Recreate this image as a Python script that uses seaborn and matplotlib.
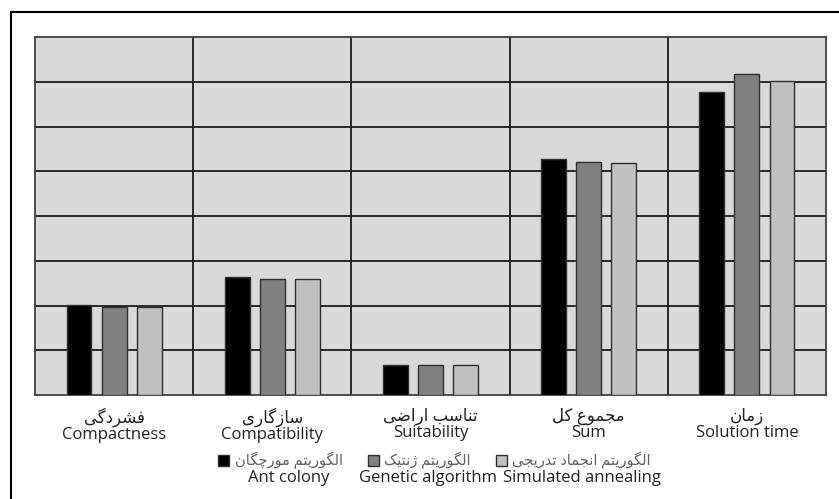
import pandas as pd
import numpy as np
import matplotlib.pyplot as plt
import matplotlib.patches as mpatches
import seaborn as sns

###############################################################
# data (grid units, 8 grid rows)

categories_fa = ['فشردگی', 'سازگاری', 'تناسب اراضی', 'مجموع کل', 'زمان']
categories_en = ['Compactness', 'Compatibility', 'Suitability', 'Sum', 'Solution time']

algos_fa = ['الگوریتم مورچگان', 'الگوریتم ژنتیک', 'الگوریتم انجماد تدریجی']
algos_en = ['Ant colony', 'Genetic algorithm', 'Simulated annealing']

ant_colony = [2.01, 2.64, 0.66, 5.28, 6.78]
genetic = [1.97, 2.59, 0.66, 5.21, 7.17]
annealing = [1.97, 2.59, 0.66, 5.19, 7.02]

colors = ['#000000', '#808080', '#c0c0c0']

###############################################################
# matplotlib has no arabic shaping, so join the letters by hand
# (isolated, final, initial, medial)
FORMS = {
    'ا': ('\uFE8D', '\uFE8E', None, None),
    'ب': ('\uFE8F', '\uFE90', '\uFE91', '\uFE92'),
    'ت': ('\uFE95', '\uFE96', '\uFE97', '\uFE98'),
    'ج': ('\uFE9D', '\uFE9E', '\uFE9F', '\uFEA0'),
    'چ': ('\uFB7A', '\uFB7B', '\uFB7C', '\uFB7D'),
    'د': ('\uFEA9', '\uFEAA', None, None),
    'ر': ('\uFEAD', '\uFEAE', None, None),
    'ز': ('\uFEAF', '\uFEB0', None, None),
    'ژ': ('\uFB8A', '\uFB8B', None, None),
    'س': ('\uFEB1', '\uFEB2', '\uFEB3', '\uFEB4'),
    'ش': ('\uFEB5', '\uFEB6', '\uFEB7', '\uFEB8'),
    'ض': ('\uFEBD', '\uFEBE', '\uFEBF', '\uFEC0'),
    'ع': ('\uFEC9', '\uFECA', '\uFECB', '\uFECC'),
    'ف': ('\uFED1', '\uFED2', '\uFED3', '\uFED4'),
    'ک': ('\uFB8E', '\uFB8F', '\uFB90', '\uFB91'),
    'گ': ('\uFB92', '\uFB93', '\uFB94', '\uFB95'),
    'ل': ('\uFEDD', '\uFEDE', '\uFEDF', '\uFEE0'),
    'م': ('\uFEE1', '\uFEE2', '\uFEE3', '\uFEE4'),
    'ن': ('\uFEE5', '\uFEE6', '\uFEE7', '\uFEE8'),
    'و': ('\uFEED', '\uFEEE', None, None),
    'ی': ('\uFBFC', '\uFBFD', '\uFBFE', '\uFBFF'),
}


def shape(s):
    out = []
    for i, c in enumerate(s):
        if c not in FORMS:
            out.append(c)
            continue
        prev = s[i - 1] if i > 0 else None
        nxt = s[i + 1] if i + 1 < len(s) else None
        jp = prev in FORMS and FORMS[prev][2] is not None
        jn = nxt in FORMS and FORMS[c][2] is not None
        iso, fin, ini, med = FORMS[c]
        if jp and jn:
            out.append(med)
        elif jp:
            out.append(fin)
        elif jn:
            out.append(ini)
        else:
            out.append(iso)
    return ''.join(out)[::-1]


###############################################################
df = pd.DataFrame({
    'category': categories_en * 3,
    'algo': sum([[a] * len(categories_en) for a in algos_en], []),
    'value': ant_colony + genetic + annealing,
})

sns.set_style('white')
plt.rcParams['font.family'] = ['Open Sans', 'DejaVu Sans']

fig = plt.figure(figsize=(8.39, 4.99), dpi=100)
ax = fig.add_axes([35 / 839, 1 - 395 / 499, 791 / 839, 358 / 499])
ax.set_facecolor('#d9d9d9')

sns.barplot(data=df, x='category', y='value', hue='algo', order=categories_en,
            hue_order=algos_en, palette=colors, width=0.665, gap=0.29,
            edgecolor='#303030', linewidth=1, saturation=1, legend=False, ax=ax, zorder=3)

# grid: rows and category separators
ax.set_ylim(0, 8)
ax.set_xlim(-0.5, 4.5)
for yv in range(1, 8):
    ax.axhline(yv, color='#1a1a1a', lw=1.3, zorder=1)
for xv in np.arange(0.5, 4.5, 1):
    ax.axvline(xv, color='#1a1a1a', lw=1.3, zorder=1)
for sp in ax.spines.values():
    sp.set_color('#404040')
    sp.set_linewidth(1.3)

ax.set_yticks([])
ax.set_xlabel('')
ax.set_ylabel('')
ax.set_xticks(range(len(categories_en)))
ax.set_xticklabels([shape(f) + '\n' + e for f, e in zip(categories_fa, categories_en)],
                   fontsize=12, color='#222222', linespacing=1.0)
ax.tick_params(axis='x', length=0, pad=9)

# legend: persian labels, english written underneath afterwards
handles = [mpatches.Patch(facecolor=c, edgecolor='#303030', lw=1) for c in colors]
leg = ax.legend(handles, [shape(a) for a in algos_fa], ncol=3, frameon=False,
                loc='upper center', bbox_to_anchor=(0.505, -0.16), fontsize=10.5,
                handlelength=0.75, handleheight=0.75, handletextpad=0.4,
                columnspacing=1.7, borderpad=0, borderaxespad=0)
for t in leg.get_texts():
    t.set_color('#606060')

fig.canvas.draw()
inv = fig.transFigure.inverted()
for t, eng in zip(leg.get_texts(), algos_en):
    bb = t.get_window_extent()
    xc, yb = inv.transform(((bb.x0 + bb.x1) / 2, bb.y0))
    fig.text(xc, yb - 0.002, eng, ha='center', va='top', fontsize=12, color='#222222')

# outer chart frame
fig.patches.append(mpatches.Rectangle((11 / 839, -0.1), 1.2, 1 - 12 / 499 + 0.1,
                                      transform=fig.transFigure, fill=False,
                                      edgecolor='black', lw=1.5))

plt.savefig('out.png', dpi=100)
